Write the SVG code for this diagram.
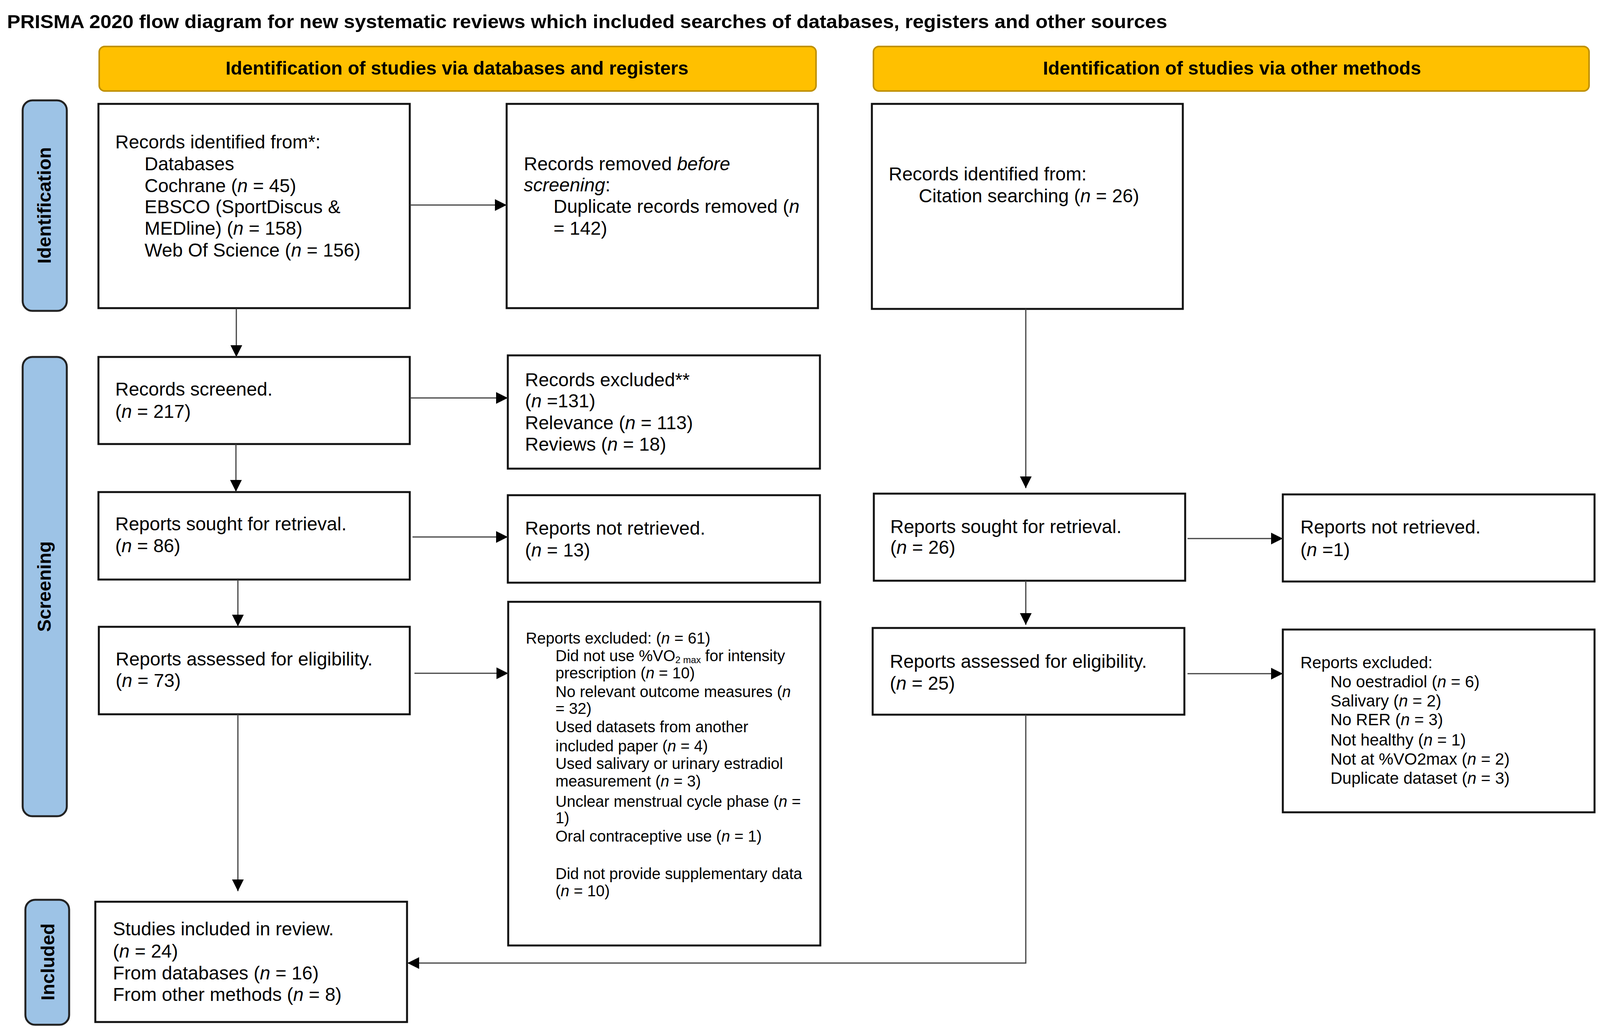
<svg xmlns="http://www.w3.org/2000/svg" width="4110" height="2640" viewBox="0 0 4110 2640">
<style>
.t{font-family:"Liberation Sans",Arial,sans-serif;font-size:48px;fill:#000}
.s40{font-size:40px}
.s42{font-size:42px}
.i{font-style:italic}
.b{font-weight:bold}
.box{fill:#fff;stroke:#111;stroke-width:5}
.side{fill:#9DC3E6;stroke:#222;stroke-width:5}
.hdr{fill:#FFC000;stroke:#BF9000;stroke-width:4}
.conn{stroke:#404040;stroke-width:3;fill:none;marker-end:url(#ah)}
</style>
<defs>
<marker id="ah" markerUnits="userSpaceOnUse" markerWidth="30" markerHeight="30" refX="30" refY="15" orient="auto">
<path d="M0,0 L30,15 L0,30 z" fill="#000"/>
</marker>
</defs>
<rect width="4110" height="2640" fill="#fff"/>
<text class="t b" x="18" y="72" font-size="52" textLength="2970" lengthAdjust="spacingAndGlyphs">PRISMA 2020 flow diagram for new systematic reviews which included searches of databases, registers and other sources</text>

<g id="hdr-left"><rect class="hdr" x="254" y="119" width="1835" height="114" rx="14"/>
<text class="t b" x="1170" y="191" text-anchor="middle" font-size="48" textLength="1185" lengthAdjust="spacingAndGlyphs">Identification of studies via databases and registers</text></g>
<g id="hdr-right"><rect class="hdr" x="2236" y="119" width="1832" height="114" rx="14"/>
<text class="t b" x="3154" y="191" text-anchor="middle" font-size="48" textLength="968" lengthAdjust="spacingAndGlyphs">Identification of studies via other methods</text></g>

<g id="side-identification"><rect class="side" x="58" y="257" width="113" height="539" rx="25"/>
<text class="t b" transform="translate(130,526) rotate(-90)" text-anchor="middle" font-size="48">Identification</text></g>
<g id="side-screening"><rect class="side" x="58" y="914" width="113" height="1176" rx="25"/>
<text class="t b" transform="translate(130,1502) rotate(-90)" text-anchor="middle" font-size="48">Screening</text></g>
<g id="side-included"><rect class="side" x="65" y="2304" width="112" height="320" rx="25"/>
<text class="t b" transform="translate(139,2463) rotate(-90)" text-anchor="middle" font-size="48">Included</text></g>

<g id="records-identified"><rect class="box" x="252" y="266" width="797" height="523"/>
<text class="t" x="295" y="380">Records identified from*:</text>
<text class="t" x="370" y="436">Databases</text>
<text class="t" x="370" y="492">Cochrane (<tspan class="i">n</tspan> = 45)</text>
<text class="t" x="370" y="546">EBSCO (SportDiscus &amp;</text>
<text class="t" x="370" y="601">MEDline) (<tspan class="i">n</tspan> = 158)</text>
<text class="t" x="370" y="657">Web Of Science (<tspan class="i">n</tspan> = 156)</text></g>

<g id="records-removed"><rect class="box" x="1297" y="266" width="797" height="523"/>
<text class="t" x="1341" y="436">Records removed <tspan class="i">before</tspan></text>
<text class="t" x="1341" y="490"><tspan class="i">screening</tspan>:</text>
<text class="t" x="1417" y="545">Duplicate records removed (<tspan class="i">n</tspan></text>
<text class="t" x="1417" y="601">= 142)</text></g>

<g id="records-identified-other"><rect class="box" x="2232" y="266" width="796" height="525"/>
<text class="t" x="2275" y="462">Records identified from:</text>
<text class="t" x="2352" y="518">Citation searching (<tspan class="i">n</tspan> = 26)</text></g>

<g id="records-screened"><rect class="box" x="252" y="914" width="797" height="223"/>
<text class="t" x="295" y="1013">Records screened.</text>
<text class="t" x="295" y="1070">(<tspan class="i">n</tspan> = 217)</text></g>

<g id="records-excluded"><rect class="box" x="1300" y="910" width="799" height="290"/>
<text class="t" x="1344" y="989">Records excluded**</text>
<text class="t" x="1344" y="1043">(<tspan class="i">n</tspan> =131)</text>
<text class="t" x="1344" y="1099">Relevance (<tspan class="i">n</tspan> = 113)</text>
<text class="t" x="1344" y="1154">Reviews (<tspan class="i">n</tspan> = 18)</text></g>

<g id="reports-sought"><rect class="box" x="252" y="1260" width="797" height="224"/>
<text class="t" x="295" y="1358">Reports sought for retrieval.</text>
<text class="t" x="295" y="1414">(<tspan class="i">n</tspan> = 86)</text></g>

<g id="reports-not-retrieved"><rect class="box" x="1300" y="1268" width="799" height="224"/>
<text class="t" x="1344" y="1369">Reports not retrieved.</text>
<text class="t" x="1344" y="1425">(<tspan class="i">n</tspan> = 13)</text></g>

<g id="reports-assessed"><rect class="box" x="253" y="1605" width="796" height="224"/>
<text class="t" x="296" y="1704">Reports assessed for eligibility.</text>
<text class="t" x="296" y="1759">(<tspan class="i">n</tspan> = 73)</text></g>

<g id="reports-excluded"><rect class="box" x="1301" y="1541" width="799" height="880"/>
<text class="t s40" x="1346" y="1648">Reports excluded: (<tspan class="i">n</tspan> = 61)</text>
<text class="t s40" x="1422" y="1693">Did not use %VO<tspan font-size="24" dy="5">2 max</tspan><tspan dy="-5"> for intensity</tspan></text>
<text class="t s40" x="1422" y="1737">prescription (<tspan class="i">n</tspan> = 10)</text>
<text class="t s40" x="1422" y="1785">No relevant outcome measures (<tspan class="i">n</tspan></text>
<text class="t s40" x="1422" y="1828">= 32)</text>
<text class="t s40" x="1422" y="1875">Used datasets from another</text>
<text class="t s40" x="1422" y="1924">included paper (<tspan class="i">n</tspan> = 4)</text>
<text class="t s40" x="1422" y="1969">Used salivary or urinary estradiol</text>
<text class="t s40" x="1422" y="2014">measurement (<tspan class="i">n</tspan> = 3)</text>
<text class="t s40" x="1422" y="2066">Unclear menstrual cycle phase (<tspan class="i">n</tspan> =</text>
<text class="t s40" x="1422" y="2108">1)</text>
<text class="t s40" x="1422" y="2155">Oral contraceptive use (<tspan class="i">n</tspan> = 1)</text>
<text class="t s40" x="1422" y="2251">Did not provide supplementary data</text>
<text class="t s40" x="1422" y="2295">(<tspan class="i">n</tspan> = 10)</text></g>

<g id="reports-sought-other"><rect class="box" x="2237" y="1264" width="797" height="223"/>
<text class="t" x="2279" y="1365">Reports sought for retrieval.</text>
<text class="t" x="2279" y="1418">(<tspan class="i">n</tspan> = 26)</text></g>

<g id="reports-not-retrieved-other"><rect class="box" x="3284" y="1266" width="798" height="223"/>
<text class="t" x="3329" y="1366">Reports not retrieved.</text>
<text class="t" x="3329" y="1424">(<tspan class="i">n</tspan> =1)</text></g>

<g id="reports-assessed-other"><rect class="box" x="2234" y="1608" width="798" height="222"/>
<text class="t" x="2278" y="1710">Reports assessed for eligibility.</text>
<text class="t" x="2278" y="1766">(<tspan class="i">n</tspan> = 25)</text></g>

<g id="reports-excluded-other"><rect class="box" x="3284" y="1612" width="798" height="468"/>
<text class="t s42" x="3329" y="1711">Reports excluded:</text>
<text class="t s42" x="3406" y="1760">No oestradiol (<tspan class="i">n</tspan> = 6)</text>
<text class="t s42" x="3406" y="1809">Salivary (<tspan class="i">n</tspan> = 2)</text>
<text class="t s42" x="3406" y="1857">No RER (<tspan class="i">n</tspan> = 3)</text>
<text class="t s42" x="3406" y="1909">Not healthy (<tspan class="i">n</tspan> = 1)</text>
<text class="t s42" x="3406" y="1958">Not at %VO2max (<tspan class="i">n</tspan> = 2)</text>
<text class="t s42" x="3406" y="2007">Duplicate dataset (<tspan class="i">n</tspan> = 3)</text></g>

<g id="studies-included"><rect class="box" x="244" y="2309" width="798" height="308"/>
<text class="t" x="289" y="2395">Studies included in review.</text>
<text class="t" x="289" y="2452">(<tspan class="i">n</tspan> = 24)</text>
<text class="t" x="289" y="2508">From databases (<tspan class="i">n</tspan> = 16)</text>
<text class="t" x="289" y="2563">From other methods (<tspan class="i">n</tspan> = 8)</text></g>

<g id="connectors">
<path class="conn" d="M1050,525 H1297"/>
<path class="conn" d="M605,790 V914"/>
<path class="conn" d="M1050,1019 H1300"/>
<path class="conn" d="M604,1137 V1259"/>
<path class="conn" d="M1056,1375 H1300"/>
<path class="conn" d="M609,1484 V1604"/>
<path class="conn" d="M1061,1724 H1301"/>
<path class="conn" d="M609,1829 V2282"/>
<path class="conn" d="M2626,791 V1250"/>
<path class="conn" d="M3040,1379 H3284"/>
<path class="conn" d="M2626,1487 V1600"/>
<path class="conn" d="M3040,1725 H3284"/>
<path class="conn" d="M2626,1830 V2466 H1043"/>
</g>
</svg>
